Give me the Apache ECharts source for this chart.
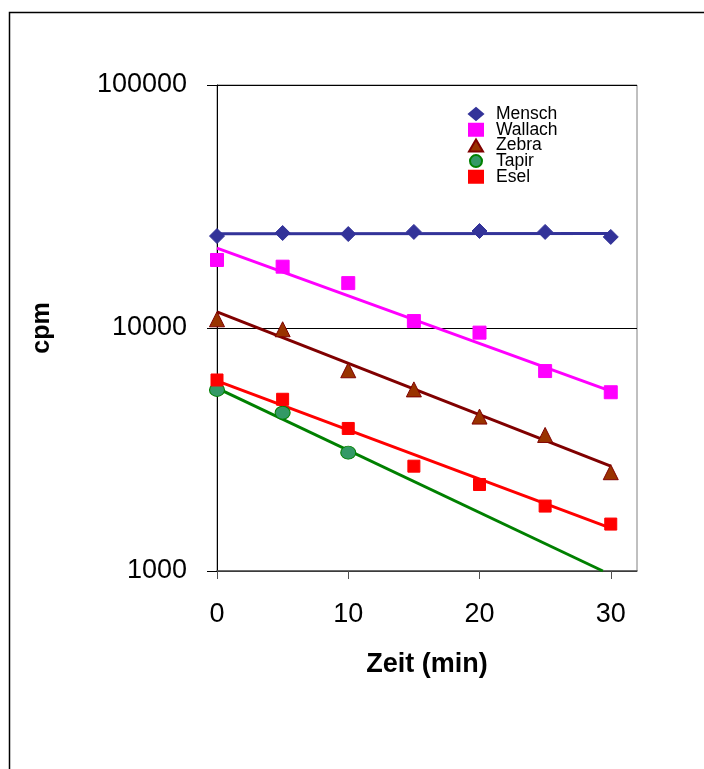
<!DOCTYPE html>
<html>
<head>
<meta charset="utf-8">
<script src="https://cdn.jsdelivr.net/npm/echarts@6/dist/echarts.min.js"></script>
<style>
html,body{margin:0;padding:0;background:#fff;}
#main{width:704px;height:769px;}
</style>
</head>
<body>
<div id="main"></div>
<script>
// Zeitpunkte (min)
var zeit = [0, 5, 10, 15, 20, 25, 30];

// Messwerte cpm
var mensch  = [23900, 24600, 24360, 24850, 25070, 24850, 23700];
var wallach = [19050, 17880, 15300, 10680, 9570, 6650, 5440];
var zebra   = [10860, 9880, 6700, 5590, 4320, 3630, 2550];
var tapir   = [5560, 4480, 3070];
var esel    = [6110, 5090, 3860, 2700, 2270, 1850, 1560];

// Trendlinien: [x, cpm] Anfang/Ende
var trendMensch  = [[0, 24400], [30, 24500]];
var trendWallach = [[0, 21300], [30, 5500]];
var trendZebra   = [[0, 11640], [30, 2700]];
var trendTapir   = [[0, 5660], [29.4, 1000]];
var trendEsel    = [[0, 6060], [30, 1500]];

var xTicks = [0, 10, 20, 30];

function pts(vals) {
	return vals.map(function (v, i) { return [zeit[i], v]; });
}

var chart = echarts.init(document.getElementById('main'));

var font = 'Arial, "Liberation Sans", sans-serif';

function trend(name, data, color) {
	return {
		name: name,
		type: 'line',
		data: data,
		symbol: 'none',
		silent: true,
		z: 2,
		lineStyle: { color: color, width: 3 }
	};
}

function scatter(name, vals, symbol, size, fill, border) {
	return {
		name: name,
		type: 'scatter',
		data: pts(vals),
		symbol: symbol,
		symbolSize: size,
		z: 3,
		itemStyle: { color: fill, borderColor: border, borderWidth: 1, opacity: 1 }
	};
}

var option = {
	animation: false,
	backgroundColor: '#fff',
	graphic: [{
		type: 'rect',
		shape: { x: 9.5, y: 12.5, width: 900, height: 900 },
		style: { fill: 'none', stroke: '#000', lineWidth: 1.5 },
		silent: true
	}],
	grid: {
		left: 217, right: 67, top: 85, bottom: 198,
		show: true, borderColor: '#808080', borderWidth: 1
	},
	legend: {
		left: 463, top: 100,
		orient: 'vertical',
		itemWidth: 14, itemHeight: 12, itemGap: -2.3,
		textStyle: { fontFamily: font, fontSize: 17.5, lineHeight: 14, color: '#000', padding: [0, 0, 0, 8] },
		data: [
			{ name: 'Mensch', icon: 'diamond' },
			{ name: 'Wallach', icon: 'rect' },
			{ name: 'Zebra', icon: 'triangle' },
			{ name: 'Tapir', icon: 'circle' },
			{ name: 'Esel', icon: 'rect' }
		],
		selectedMode: false
	},
	xAxis: {
		type: 'value',
		min: 0, max: 32, interval: 10,
		name: 'Zeit (min)',
		nameLocation: 'middle',
		nameGap: 80,
		nameTextStyle: { fontFamily: font, fontSize: 27, fontWeight: 'bold', color: '#000' },
		axisLine: { onZero: false, lineStyle: { color: '#505050', width: 1.5 } },
		axisTick: { show: true, length: 8, lineStyle: { color: '#505050' },
			customValues: xTicks },
		axisLabel: { fontFamily: font, fontSize: 27, color: '#000', margin: 30,
			customValues: xTicks },
		splitLine: { show: false }
	},
	yAxis: {
		type: 'log',
		logBase: 10,
		min: 1000, max: 100000,
		name: 'cpm',
		nameLocation: 'middle',
		nameGap: 162,
		nameRotate: 90,
		nameTextStyle: { fontFamily: font, fontSize: 25, fontWeight: 'bold', color: '#000' },
		axisLine: { show: true, lineStyle: { color: '#000', width: 1 } },
		axisTick: { show: true, length: 10, lineStyle: { color: '#000' } },
		axisLabel: { fontFamily: font, fontSize: 27, color: '#000', margin: 30,
			padding: [9, 0, 0, 0],
			formatter: function (v) { return String(Math.round(v)); } },
		splitLine: { show: true, lineStyle: { color: '#000', width: 1 } }
	},
	series: [
		trend('Mensch Trend', trendMensch, '#333399'),
		trend('Wallach Trend', trendWallach, '#FF00FF'),
		trend('Zebra Trend', trendZebra, '#800000'),
		trend('Tapir Trend', trendTapir, '#008000'),
		trend('Esel Trend', trendEsel, '#FF0000'),
		scatter('Mensch', mensch, 'diamond', 15, '#333399', '#333399'),
		scatter('Wallach', wallach, 'rect', 13, '#FF00FF', '#FF00FF'),
		scatter('Zebra', zebra, 'triangle', 15, '#993300', '#800000'),
		scatter('Tapir', tapir, 'circle', [15, 13], '#339966', '#008000'),
		scatter('Esel', esel, 'rect', 12, '#FF0000', '#FF0000')
	]
};

chart.setOption(option);
</script>
</body>
</html>
